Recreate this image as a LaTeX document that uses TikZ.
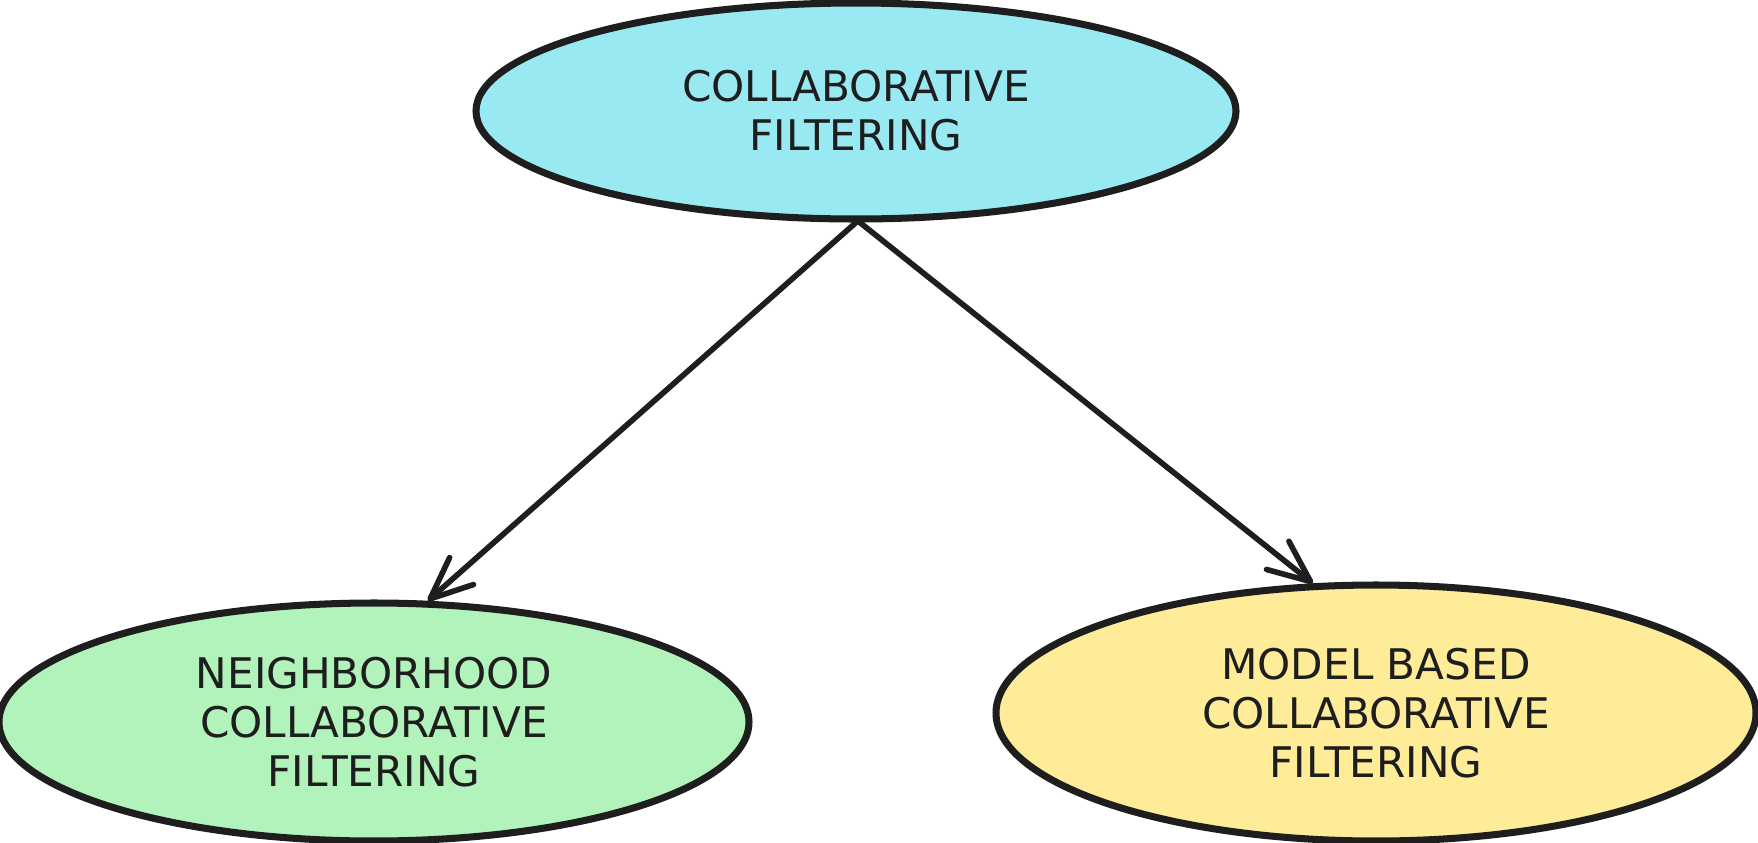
\documentclass[tikz,border=0pt]{standalone}
\usepackage{fontspec}
\setmainfont{DejaVu Sans}
\usetikzlibrary{shapes.geometric, arrows.meta}

\definecolor{inkline}{HTML}{1E1E1E}
\definecolor{skycyan}{HTML}{99E9F2}
\definecolor{mintgreen}{HTML}{B2F2BB}
\definecolor{butteryellow}{HTML}{FFEC99}

\begin{document}
\begin{tikzpicture}[
    blob/.style={ellipse, draw=inkline, line width=2pt, inner sep=0pt,
      align=center, text=inkline, font=\fontsize{12}{13.9}\selectfont},
    link/.style={draw=inkline, line width=1.6pt, line cap=round,
      -{Straight Barb[length=4.2mm, width=3.6mm, round]}}]
  \useasboundingbox (0,0) rectangle (17.58,8.42);
  \node[blob, fill=skycyan, minimum width=7.6cm, minimum height=2.16cm]
    (collab) at (8.56,7.31) {COLLABORATIVE\\FILTERING};
  \node[blob, fill=mintgreen, minimum width=7.5cm, minimum height=2.38cm]
    (neigh) at (3.74,1.20) {NEIGHBORHOOD\\COLLABORATIVE\\FILTERING};
  \node[blob, fill=butteryellow, minimum width=7.6cm, minimum height=2.56cm]
    (model) at (13.76,1.29) {MODEL BASED\\COLLABORATIVE\\FILTERING};
  \draw[link] (collab.south) -- (neigh.66);
  \draw[link] (collab.-88) -- (model.116);
\end{tikzpicture}
\end{document}
